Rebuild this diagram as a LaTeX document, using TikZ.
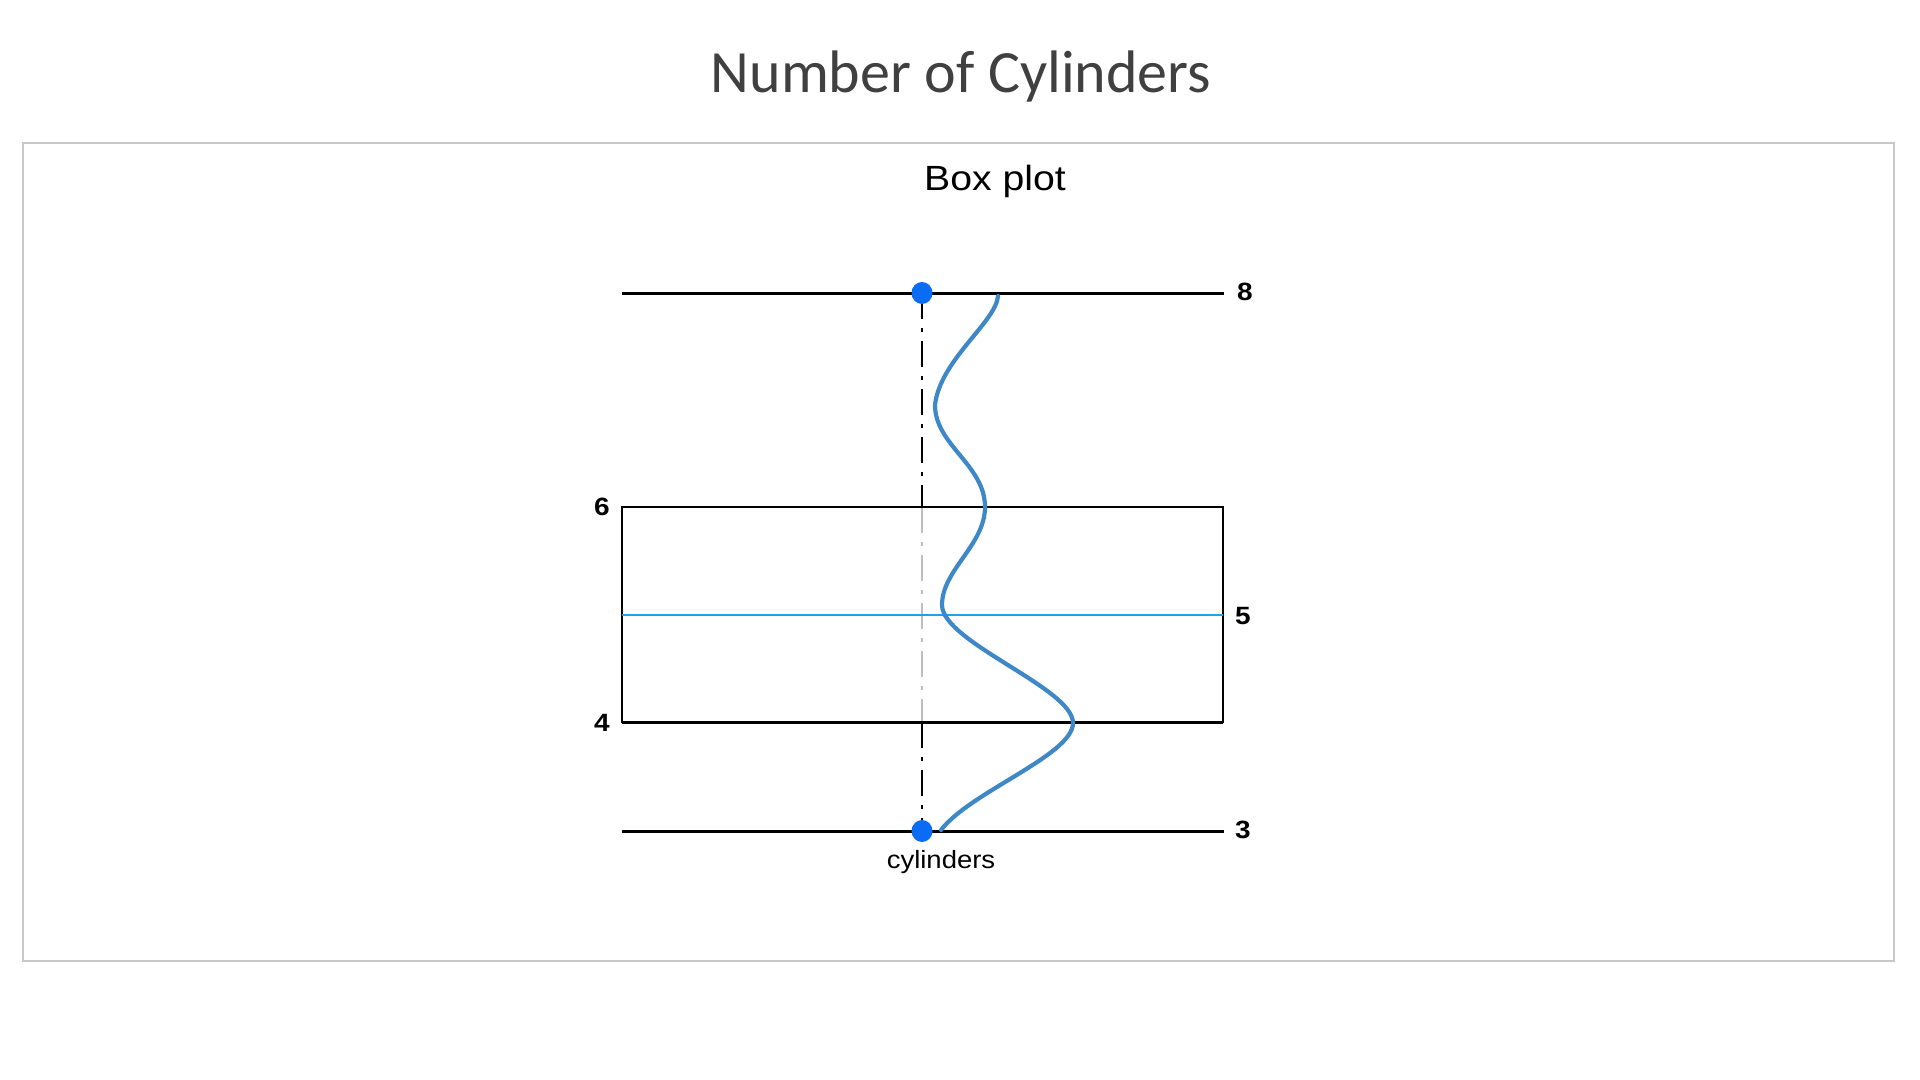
\documentclass[tikz,border=0pt]{standalone}
\usepackage{fontspec}
\newfontfamily\calib{Carlito}
\newfontfamily\arialf[FakeStretch=1.12]{Liberation Sans}
\newfontfamily\arialw[FakeStretch=1.1]{Liberation Sans}
\newfontfamily\arialb[FakeStretch=1.12]{Liberation Sans Bold}
\definecolor{titlegray}{HTML}{404040}
\definecolor{panelgray}{HTML}{C8C8C8}
\definecolor{medblue}{HTML}{1FA3E8}
\definecolor{curveblue}{HTML}{3F88C8}
\definecolor{dotblue}{HTML}{0A6CF5}
\definecolor{dashgray}{HTML}{BDBDBD}
\tikzset{
  whisk/.style={line width=1.5pt, black},
  boxline/.style={line width=1.1pt, black},
  medline/.style={line width=1pt, medblue},
  dashd/.style={line width=0.75pt, dash pattern=on 13pt off 4.5pt on 2pt off 4.5pt},
  numlbl/.style={font=\arialb\fontsize{12.5pt}{15pt}\selectfont, inner sep=0pt, anchor=center},
  dotmark/.style={fill=dotblue, draw=none},
}
\begin{document}
\begin{tikzpicture}[x=0.5pt, y=-0.5pt]
\useasboundingbox (0,0) rectangle (1920,1080);
\fill[white] (0,0) rectangle (1920,1080);
% title
\node (title) [anchor=base, inner sep=0pt, text=titlegray, font=\calib\fontsize{30pt}{36pt}\selectfont] at (961,93) {Number of Cylinders};
% panel
\draw[panelgray, line width=0.9pt] (23,143) rectangle (1894,961);
\node (sub) [anchor=base, inner sep=0pt, font=\arialf\fontsize{17.5pt}{21pt}\selectfont] at (995,191) {Box plot};
% key coordinates
\coordinate (tl) at (622,294);
\coordinate (tr) at (1224,294);
\coordinate (bl) at (622,831);
\coordinate (br) at (1224,831);
\coordinate (qtl) at (622,507);
\coordinate (qbr) at (1223,722);
\coordinate (ml) at (622,615);
\coordinate (mr) at (1223,615);
\coordinate (dtop) at (922,293);
\coordinate (dbox1) at (922,507);
\coordinate (dbox2) at (922,722);
\coordinate (dbot) at (922,831);
% curve extremes
\coordinate (c0) at (998,296);
\coordinate (c1) at (935,405);
\coordinate (c2) at (985,507);
\coordinate (c3) at (942,605);
\coordinate (c4) at (1073,723);
\coordinate (c5) at (941,830);
% dashed vertical
\draw[dashd, black] (dtop) -- (dbox1);
\draw[dashd, dashgray] (dbox1) -- (dbox2);
\draw[dashd, black] (dbox2) -- (dbot);
% whiskers
\draw[whisk] (tl) -- (tr);
\draw[whisk] (bl) -- (br);
% box
\draw[boxline] (qtl) rectangle (qbr);
\draw[whisk] (622,722) -- (1223,722);
% median
\draw[medline] (ml) -- (mr);
% density curve
\draw[curveblue, line width=2.1pt, line cap=round]
  (c0) .. controls (996,322) and (940,360) .. (c1)
       .. controls (935,445) and (985,465) .. (c2)
       .. controls (985,545) and (942,570) .. (c3)
       .. controls (942,642) and (1073,688) .. (c4)
       .. controls (1073,755) and (970,792) .. (c5);
% dots
\fill[dotmark] (dtop) ellipse [x radius=10.5, y radius=11];
\fill[dotmark] (dbot) ellipse [x radius=10.5, y radius=11];
% labels
\node (l8) [numlbl] at (1245,292) {8};
\node (l5) [numlbl] at (1243,616) {5};
\node (l3) [numlbl] at (1243,830) {3};
\node (l6) [numlbl] at (602,507) {6};
\node (l4) [numlbl] at (602,723) {4};
\node (xl) [anchor=base, inner sep=0pt, font=\arialw\fontsize{12.5pt}{15pt}\selectfont] at (941,868) {cylinders};
\end{tikzpicture}
\end{document}
